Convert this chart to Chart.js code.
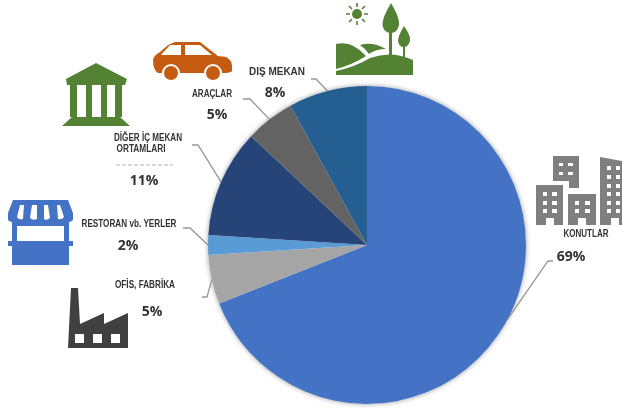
<!DOCTYPE html>
<html lang="tr">
<head>
<meta charset="utf-8">
<title>Mekanlara göre dağılım</title>
<script src="https://cdn.jsdelivr.net/npm/chart.js@4"></script>
<style>
    html, body { margin: 0; padding: 0; background: #fff; }
    #wrap { position: relative; width: 622px; height: 409px; overflow: hidden; }
    #wrap canvas { position: absolute; left: 0; top: 0; }
    #icons { position: absolute; left: 0; top: 0; pointer-events: none; }
</style>
</head>
<body>
<div id="wrap">
    <canvas id="pie" width="622" height="409"></canvas>
    <svg id="icons" width="622" height="409" viewBox="0 0 622 409">
        <!-- araba -->
        <g>
            <path fill="#c55a11" d="M175 42H200L218 56L226 57Q232 60 232 66V71Q231 73 222 73H158Q153 70 153 60Q154 55 160 52L168 45Z"/>
            <path fill="#fff" d="M161 55L170 45H181V55ZM185 45H200L212 55H185Z"/>
            <circle cx="171" cy="73" r="9" fill="#fff"/><circle cx="213" cy="73" r="9" fill="#fff"/>
            <circle cx="171" cy="73" r="7" fill="#c55a11"/><circle cx="213" cy="73" r="7" fill="#c55a11"/>
        </g>
        <!-- banka -->
        <g fill="#548235">
            <path d="M96 63L127 79L125 85H67L66 79Z"/>
            <rect x="70" y="85" width="7" height="32"/><rect x="86" y="85" width="6" height="32"/>
            <rect x="101" y="85" width="6" height="32"/><rect x="115" y="85" width="7" height="32"/>
            <path d="M72 117H120L130 126H62Z"/>
        </g>
        <!-- dış mekan -->
        <g fill="#548235">
            <path d="M391 3Q400 18 399 25Q397 33 391 33Q384 33 382.500 25Q382 18 391 3Z"/>
            <rect x="389" y="25" width="3" height="30"/>
            <path d="M404 26Q411 36 410 41Q408 47 404 47Q399 47 398 41Q398 36 404 26Z"/>
            <rect x="403" y="42" width="2" height="18"/>
            <path d="M336 44Q352 40 366 56Q352 65 336 69Z"/>
            <path d="M360 45Q372 41 386 49Q376 49 369 54Q366 49 360 45Z"/>
            <path d="M336 75V71Q355 67 370 58Q392 50 413 60V75Z"/>
            <circle cx="357" cy="14" r="5"/>
            <g stroke="#548235" stroke-width="1.6">
                <path d="M357 3V7M357 21V25M346 14H350M364 14H368M349 6L352 9M362 19L365 22M349 22L352 19M362 9L365 6"/>
            </g>
        </g>
        <!-- restoran -->
        <g>
            <path fill="#4472c4" d="M13 200H68L73 213V220Q71 222 69 222V241H73V246H69V265H12V246H8V241H12V222Q10 222 8 220V213Z"/>
            <rect x="17" y="226" width="47" height="15" fill="#fff"/>
            <path fill="#fff" d="M20 205H24L23 219Q18 220 17 217ZM32 205H37V219Q33 221 30 218ZM44 205H48L50 218Q47 221 44 219ZM57 205H60L64 217Q62 220 58 219Z"/>
        </g>
        <!-- fabrika -->
        <g>
            <path fill="#404040" d="M71 288H78L80 324L104 313V324L128 313V348H68Z"/>
            <path fill="#fff" d="M75 334H84V343H75ZM93 334H102V343H93ZM111 334H120V343H111Z"/>
        </g>
        <!-- konutlar -->
        <g>
            <path fill="#7f7f7f" d="M553 156H579V188H569V181H553Z"/>
            <path fill="#7f7f7f" d="M536 185H563V225H554V218H546V225H536Z"/>
            <path fill="#7f7f7f" d="M568 194H596V225H586V218H578V225H568Z"/>
            <path fill="#7f7f7f" d="M600 157L622 161V225H619V218H611V225H600Z"/>
            <path fill="#fff" d="M559 163h4v3h-4zM568 163h5v3h-5zM559 172h4v3h-4zM568 172h5v3h-5z"/>
            <path fill="#fff" d="M543 192h4v4h-4zM552 192h5v4h-5zM543 201h4v4h-4zM552 201h5v4h-5zM543 209h4v4h-4zM552 209h5v4h-5z"/>
            <path fill="#fff" d="M575 201h4v4h-4zM585 201h5v4h-5zM575 209h4v4h-4zM585 209h5v4h-5z"/>
            <path fill="#fff" d="M607 166h4v4h-4zM616 166h4v4h-4zM607 175h4v4h-4zM616 175h4v4h-4zM607 184h4v4h-4zM616 184h4v4h-4zM607 192h4v4h-4zM616 192h4v4h-4zM607 201h4v4h-4zM616 201h4v4h-4zM607 209h4v4h-4zM616 209h4v4h-4z"/>
        </g>
    </svg>
</div>
<script>
// Dilimler saat yönünde, tepeden başlar
const categories = ['KONUTLAR', 'OFİS, FABRİKA', 'RESTORAN vb. YERLER', 'DİĞER İÇ MEKAN ORTAMLARI', 'ARAÇLAR', 'DIŞ MEKAN'];
const shares = [69, 5, 2, 11, 5, 8];
const sliceColors = ['#4472c4', '#a5a5a5', '#5b9bd5', '#264478', '#636363', '#255e91'];

// Etiket yerleşimi: her satır [metin, x, y, en fazla genişlik], yüzde [x, y], kılavuz çizgisi dirseği [x1, x2, y]
const nameLines = [
    [['KONUTLAR', 586, 234, 45]],
    [['OFİS, FABRİKA', 145, 285, 60]],
    [['RESTORAN vb. YERLER', 129, 224, 95]],
    [['DİĞER İÇ MEKAN', 148, 138, 68], ['ORTAMLARI', 141, 149, 49]],
    [['ARAÇLAR', 212, 94, 40]],
    [['DIŞ MEKAN', 277, 72, 56]]
];
const percentPos = [[571, 257], [152, 312], [128, 246], [144, 181], [217, 115], [275, 93]];
const elbows = [[553, 548, 261], [202, 207, 297], [183, 190, 228], [192, 198, 145], [243, 250, 99], [311, 316, 79]];
const leaderShift = [-0.11, 0, 0, 0, 0, 0];

const labelsPlugin = {
    id: 'sliceLabels',
    beforeDatasetsDraw(chart) {
        // pastanın çevresindeki yumuşak gölge, dilimlerin altında kalır
        const ctx = chart.ctx;
        const p = chart.getDatasetMeta(0).data[0].getProps(['x', 'y', 'outerRadius'], true);
        ctx.save();
        ctx.shadowColor = 'rgba(0,0,0,0.4)';
        ctx.shadowBlur = 5;
        ctx.fillStyle = '#fff';
        ctx.beginPath();
        ctx.arc(p.x, p.y, p.outerRadius, 0, Math.PI * 2);
        ctx.fill();
        ctx.restore();
    },
    afterDatasetsDraw(chart) {
        const ctx = chart.ctx;
        const arcs = chart.getDatasetMeta(0).data;

        ctx.save();
        // kılavuz çizgileri dilimin orta açısından çıkar
        ctx.strokeStyle = '#969696';
        ctx.lineWidth = 1.3;
        arcs.forEach((arc, i) => {
            const p = arc.getProps(['x', 'y', 'startAngle', 'endAngle', 'outerRadius'], true);
            const a = (p.startAngle + p.endAngle) / 2 + leaderShift[i];
            const e = elbows[i];
            ctx.beginPath();
            ctx.moveTo(e[0], e[2]);
            ctx.lineTo(e[1], e[2]);
            ctx.lineTo(p.x + Math.cos(a) * p.outerRadius, p.y + Math.sin(a) * p.outerRadius);
            ctx.stroke();
        });

        // ORTAMLARI altındaki silik kesik çizgi
        ctx.strokeStyle = '#b5b5b5';
        ctx.lineWidth = 1;
        ctx.setLineDash([4, 2]);
        ctx.beginPath();
        ctx.moveTo(116, 165);
        ctx.lineTo(173, 165);
        ctx.stroke();
        ctx.setLineDash([]);

        ctx.textAlign = 'center';
        ctx.textBaseline = 'middle';
        ctx.fillStyle = '#333';
        ctx.font = 'bold 10px "Liberation Sans"';
        nameLines.forEach(lines => {
            lines.forEach(l => ctx.fillText(l[0], l[1], l[2], l[3]));
        });
        ctx.font = 'bold 14px "Open Sans"';
        shares.forEach((v, i) => {
            ctx.fillText(v + '%', percentPos[i][0], percentPos[i][1]);
        });
        ctx.restore();
    }
};

new Chart(document.getElementById('pie').getContext('2d'), {
    type: 'pie',
    data: {
        labels: categories,
        datasets: [{
            data: shares,
            backgroundColor: sliceColors,
            borderWidth: 0
        }]
    },
    options: {
        responsive: false,
        animation: false,
        layout: { padding: { left: 208, right: 96, top: 86, bottom: 5 } },
        plugins: {
            legend: { display: false },
            tooltip: { enabled: false }
        }
    },
    plugins: [labelsPlugin]
});
</script>
</body>
</html>
